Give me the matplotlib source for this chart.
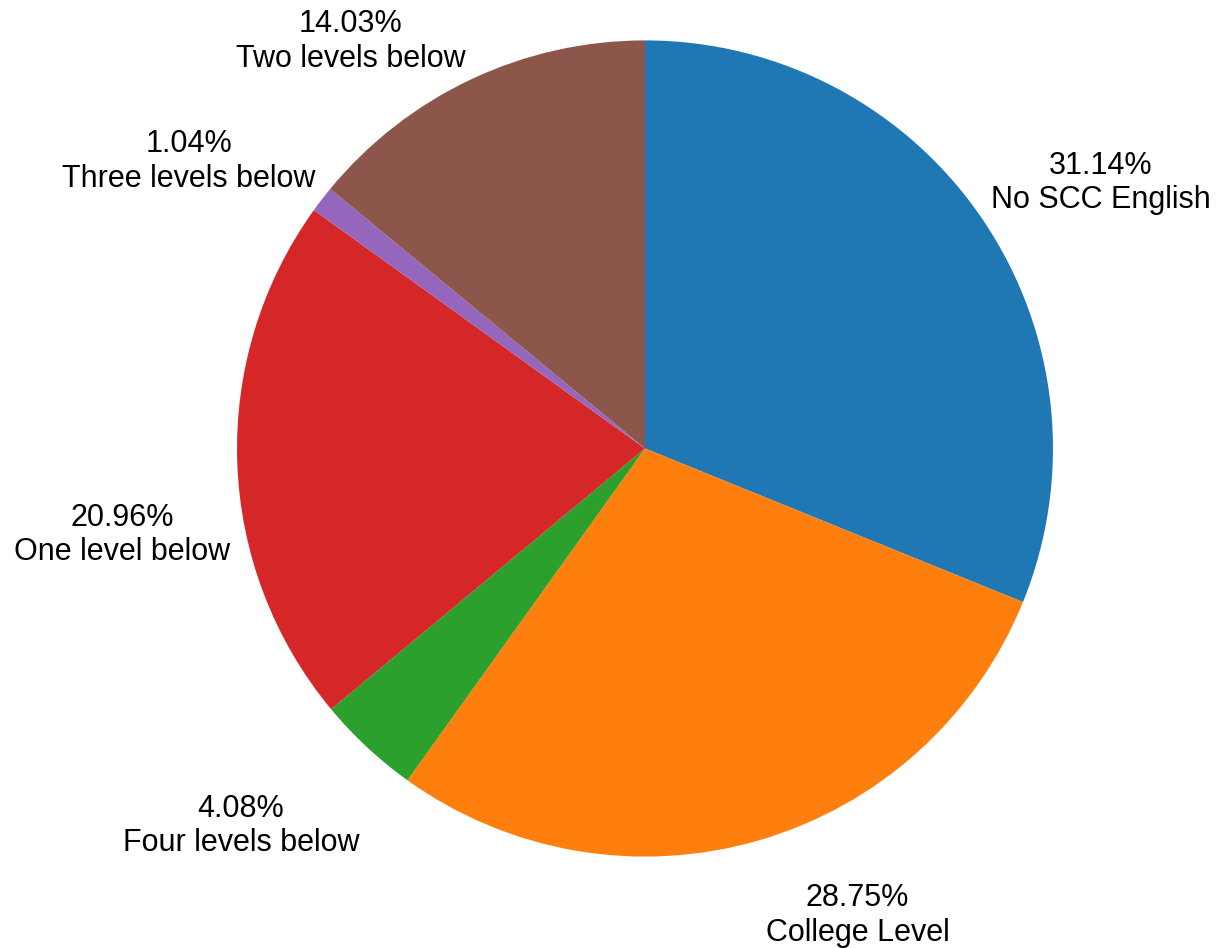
import matplotlib.pyplot as plt
from matplotlib.transforms import offset_copy

levels = ['No SCC English', 'College Level', 'Four levels below',
          'One level below', 'Three levels below', 'Two levels below']
shares = [31.14, 28.75, 4.08, 20.96, 1.04, 14.03]
colors = ['#1f77b4', '#ff7f0e', '#2ca02c', '#d62728', '#9467bd', '#8c564b']

# hand-tuned label shifts in pixels (right, down) so the labels don't crowd the pie
label_shift = [(-26, -15), (-4, 36), (20, 49), (34, 71), (26, -13), (12, -1)]

plt.rcParams['font.family'] = ['Liberation Sans', 'DejaVu Sans']


def main():
    fig = plt.figure(figsize=(12.19, 9.48), dpi=100)
    ax = fig.add_axes([0, 0, 1, 1])

    labels = ['{:.2f}%\n{}'.format(s, name) for s, name in zip(shares, levels)]
    wedges, texts = ax.pie(
        shares,
        labels=labels,
        colors=colors,
        startangle=90,
        counterclock=False,
        labeldistance=1.1,
        textprops={'fontsize': 22},
    )
    for t, (dx, dy) in zip(texts, label_shift):
        t.set_multialignment('center')
        t.set_transform(offset_copy(ax.transData, fig, x=dx, y=-dy, units='dots'))

    # pie radius is 1 data unit; keep it round and place it in the frame
    ax.set_xlim(-1.581, 1.407)
    ax.set_ylim(-1.224, 1.099)
    ax.set_aspect('auto')
    ax.axis('off')

    fig.savefig('out.png', dpi=100)


if __name__ == "__main__":
    main()
